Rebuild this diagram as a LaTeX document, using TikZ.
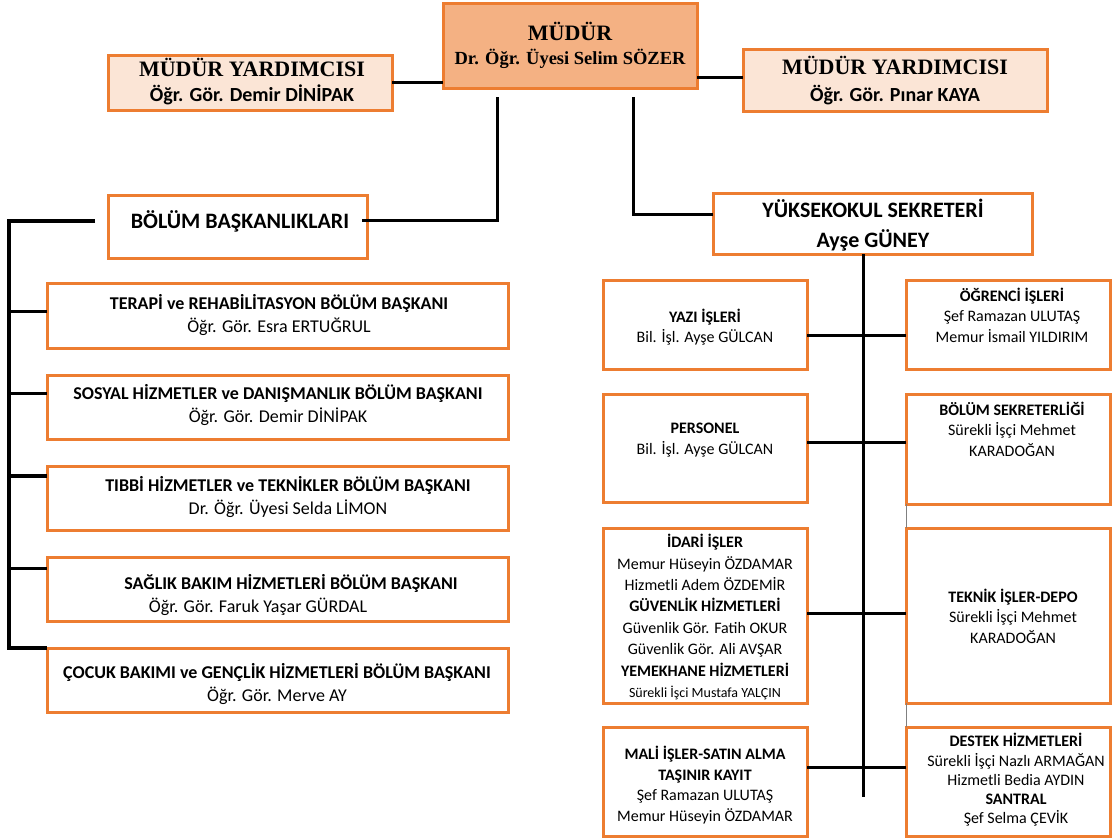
\documentclass[tikz,border=0pt]{standalone}
\usepackage{fontspec}
\setmainfont{Carlito}
\newfontfamily\tnr{Liberation Serif}
\usetikzlibrary{calc}
\definecolor{obrd}{HTML}{ED7D31}
\definecolor{ofill}{HTML}{F4B183}
\definecolor{pfill}{HTML}{FBE5D6}
\tikzset{
  box/.style={draw=obrd, line width=3pt, fill=white, inner sep=0pt, outer sep=0pt},
  conn/.style={draw=black, line width=3pt},
  spine/.style={draw=black, line width=4pt},
  txt/.style={align=center, inner sep=0pt, text=black},
  rtxt/.style={txt, font=\fontsize{16}{20.5}\selectfont},
  dtxt/.style={txt, font=\fontsize{18}{23}\selectfont},
}
\newcommand\obox[6]{\node[box,#6,anchor=north west,minimum width={(#4-#2)*1pt},minimum height={(#5-#3)*1pt}] (#1) at (#2,#3) {};}
\begin{document}
\begin{tikzpicture}[x=1pt,y=-1pt]
\useasboundingbox (0,0) rectangle (1113,838);
\fill[white] (0,0) rectangle (1113,838);

% ---------- top ----------
\obox{mud}{443}{3}{697}{88}{fill=ofill}
\obox{myl}{108}{55}{392}{110}{fill=pfill}
\obox{myr}{743}{49}{1047}{111}{fill=pfill}
\node[txt,anchor=base,font=\tnr\bfseries\fontsize{22}{26}\selectfont] (mud-t1) at (570,40) {MÜDÜR};
\node[txt,anchor=base,font=\tnr\bfseries\fontsize{18.5}{22}\selectfont] (mud-t2) at (570,64) {Dr. Öğr. Üyesi Selim SÖZER};
\node[txt,anchor=base,font=\tnr\bfseries\fontsize{22}{26}\selectfont] (myl-t1) at (252,76) {MÜDÜR YARDIMCISI};
\node[txt,anchor=base,font=\bfseries\fontsize{20}{24}\selectfont] (myl-t2) at (252,101) {Öğr. Gör. Demir DİNİPAK};
\node[txt,anchor=base,font=\tnr\bfseries\fontsize{22}{26}\selectfont] (myr-t1) at (895,74) {MÜDÜR YARDIMCISI};
\node[txt,anchor=base,font=\bfseries\fontsize{20}{24}\selectfont] (myr-t2) at (895,101) {Öğr. Gör. Pınar KAYA};

\draw[conn] (myl.east) -- (myl.east -| mud.west);
\coordinate (myrc) at ([yshift=3pt]myr.west);
\draw[conn] (myrc) -- (myrc -| mud.east);

% ---------- second level ----------
\obox{bb}{108}{195}{367}{258}{}
\node[txt,anchor=base,font=\bfseries\fontsize{22}{26}\selectfont] (bb-t) at (240,228) {BÖLÜM BAŞKANLIKLARI};
\obox{ys}{713}{193}{1032}{254}{}
\node[txt,anchor=base,font=\bfseries\fontsize{22}{26}\selectfont] (ys-t1) at (873,217) {YÜKSEKOKUL SEKRETERİ};
\node[txt,anchor=base,font=\bfseries\fontsize{22}{26}\selectfont] (ys-t2) at (873,247) {Ayşe GÜNEY};

\coordinate (mv1) at (497,97);
\coordinate (mv2) at (633,97);
\draw[conn] (mv1) |- ([xshift=-5pt,yshift=6.5pt]bb.east);
\draw[conn] (mv2) |- ([yshift=9.5pt]ys.west);

% ---------- departments ----------
\obox{d1}{47}{283}{508}{348}{}
\obox{d2}{47}{375}{508}{439}{}
\obox{d3}{47}{466}{508}{530}{}
\obox{d4}{47}{557}{508}{621}{}
\obox{d5}{47}{648}{508}{712}{}
\node[dtxt] (d1-t) at (279,315) {\textbf{TERAPİ ve REHABİLİTASYON BÖLÜM BAŞKANI}\\Öğr. Gör. Esra ERTUĞRUL};
\node[dtxt] (d2-t) at (278,405) {\textbf{SOSYAL HİZMETLER ve DANIŞMANLIK BÖLÜM BAŞKANI}\\Öğr. Gör. Demir DİNİPAK};
\node[dtxt] (d3-t) at (288,497) {\textbf{TIBBİ HİZMETLER ve TEKNİKLER BÖLÜM BAŞKANI}\\Dr. Öğr. Üyesi Selda LİMON};
\node[dtxt] (d4-t) at (291,595) {\textbf{SAĞLIK BAKIM HİZMETLERİ BÖLÜM BAŞKANI}\\Öğr. Gör. Faruk Yaşar GÜRDAL\hspace*{66pt}};
\node[dtxt] (d5-t) at (277,684) {\textbf{ÇOCUK BAKIMI ve GENÇLİK HİZMETLERİ BÖLÜM BAŞKANI}\\Öğr. Gör. Merve AY};

\coordinate (lsT) at (9,221);
\draw[spine] ([xshift=-13pt,yshift=5.5pt]bb.west) -- (lsT) |- (d5.north west);
\draw[conn] (lsT |- 0,311) -- (d1.west |- 0,311);
\draw[conn] (lsT |- 0,393) -- (d2.west |- 0,393);
\draw[conn, line width=4pt] (lsT |- 0,476) -- (d3.west |- 0,476);
\draw[conn] (lsT |- 0,568) -- (d4.west |- 0,568);

% ---------- offices ----------
\obox{l1}{603}{280}{807}{369}{}
\obox{r1}{906}{280}{1110}{369}{}
\obox{l2}{603}{394}{807}{502}{}
\obox{r2}{906}{394}{1110}{504}{}
\obox{l3}{603}{528}{807}{703}{}
\obox{r3}{906}{528}{1110}{703}{}
\obox{l4}{603}{727}{807}{836}{}
\obox{r4}{906}{727}{1110}{836}{}

\node[rtxt] (l1-t) at (705,327) {\textbf{YAZI İŞLERİ}\\Bil. İşl. Ayşe GÜLCAN};
\node[rtxt] (r1-t) at (1012,315) {\textbf{ÖĞRENCİ İŞLERİ}\\Şef Ramazan ULUTAŞ\\Memur İsmail YILDIRIM};
\node[rtxt] (l2-t) at (705,440) {\textbf{PERSONEL}\\Bil. İşl. Ayşe GÜLCAN};
\node[rtxt] (r2-t) at (1012,429) {\textbf{BÖLÜM SEKRETERLİĞİ}\\Sürekli İşçi Mehmet\\KARADOĞAN};
\node[rtxt, font=\fontsize{16}{21.4}\selectfont] (l3-t) at (705,617) {\textbf{İDARİ İŞLER}\\Memur Hüseyin ÖZDAMAR\\Hizmetli Adem ÖZDEMİR\\\textbf{GÜVENLİK HİZMETLERİ}\\Güvenlik Gör. Fatih OKUR\\Güvenlik Gör. Ali AVŞAR\\\textbf{YEMEKHANE HİZMETLERİ}\\{\fontsize{14}{21.4}\selectfont Sürekli İşci Mustafa YALÇIN}};
\node[rtxt] (r3-t) at (1013,616) {\textbf{TEKNİK İŞLER-DEPO}\\Sürekli İşçi Mehmet\\KARADOĞAN};
\node[rtxt] (l4-t) at (705,785) {\textbf{MALİ İŞLER-SATIN ALMA}\\\textbf{TAŞINIR KAYIT}\\Şef Ramazan ULUTAŞ\\Memur Hüseyin ÖZDAMAR};
\node[rtxt, font=\fontsize{16}{19.3}\selectfont] (r4-t) at (1016,780) {\textbf{DESTEK HİZMETLERİ}\\Sürekli İşçi Nazlı ARMAĞAN\\Hizmetli Bedia AYDIN\\\textbf{SANTRAL}\\Şef Selma ÇEVİK};

\coordinate (rsB) at (863,797);
\draw[conn] (ys.south -| rsB) -- (rsB);
\coordinate (br1) at (863,335);
\coordinate (br2) at (863,442);
\coordinate (br3) at (863,613);
\coordinate (br4) at (863,767);
\draw[conn] (l1.east |- br1) -- (r1.west |- br1);
\draw[conn] (l2.east |- br2) -- (r2.west |- br2);
\draw[conn] (l3.east |- br3) -- (r3.west |- br3);
\draw[conn] (l4.east |- br4) -- (r4.west |- br4);
\draw[gray, line width=1pt] (r2.south west) -- (r3.north west);
\draw[gray, line width=1pt] (r3.south west) -- (r4.north west);
\end{tikzpicture}
\end{document}
